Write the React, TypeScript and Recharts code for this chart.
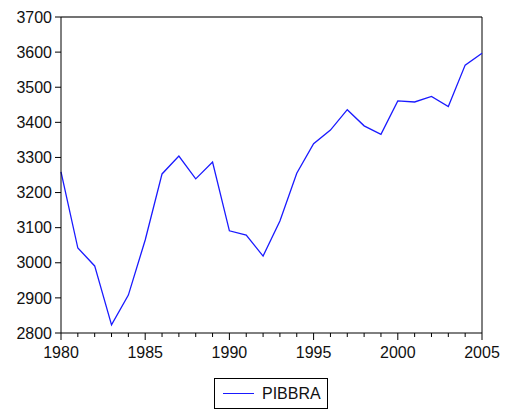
import { Line, LineChart, ReferenceLine, XAxis, YAxis } from "recharts"

const YEARS = [
  1980, 1981, 1982, 1983, 1984, 1985, 1986, 1987, 1988, 1989, 1990, 1991, 1992,
  1993, 1994, 1995, 1996, 1997, 1998, 1999, 2000, 2001, 2002, 2003, 2004, 2005,
]
const PIBBRA = [
  3259, 3042, 2991, 2823, 2908, 3065, 3253, 3304, 3239, 3287, 3091, 3079, 3019,
  3119, 3255, 3339, 3378, 3436, 3390, 3366, 3461, 3458, 3474, 3445, 3563, 3597,
]
const Y_TICKS = [2800, 2900, 3000, 3100, 3200, 3300, 3400, 3500, 3600, 3700]
const X_TICKS = YEARS

const FONT = "'Liberation Sans', Arial, sans-serif"

const data = YEARS.map((year, i) => ({ year, PIBBRA: PIBBRA[i] }))

function YearTick(props: any) {
  const { x, y, payload } = props
  const major = payload.value % 5 === 0
  return (
    <g>
      <line x1={x} x2={x} y1={y} y2={y + (major ? 7 : 4)} stroke="#000" />
      {major && (
        <text x={x} y={y + 25} textAnchor="middle" fontSize={16} fontFamily={FONT} fill="#111">
          {payload.value}
        </text>
      )}
    </g>
  )
}

export default function App() {
  return (
    <div style={{ position: "absolute", left: 0, top: 0, width: 505, height: 410, background: "#fff" }}>
      <LineChart
        width={505}
        height={410}
        data={data}
        margin={{ top: 17, right: 23, bottom: 47, left: 0 }}
      >
        <XAxis
          dataKey="year"
          type="number"
          domain={[1980, 2005]}
          ticks={X_TICKS}
          interval={0}
          height={30}
          tickSize={0}
          tickMargin={0}
          tick={<YearTick />}
          axisLine={{ stroke: "#000" }}
        />
        <YAxis
          type="number"
          domain={[2800, 3700]}
          ticks={Y_TICKS}
          interval={0}
          width={61}
          tickSize={6}
          tickMargin={3}
          axisLine={{ stroke: "#000" }}
          tickLine={{ stroke: "#000" }}
          tick={{ fontSize: 16, fontFamily: FONT, fill: "#111" }}
        />
        <ReferenceLine y={3700} stroke="#444" strokeWidth={1.5} />
        <ReferenceLine x={2005} stroke="#000" />
        <Line
          dataKey="PIBBRA"
          stroke="#1a1aff"
          strokeWidth={1.3}
          dot={false}
          isAnimationActive={false}
        />
      </LineChart>
      <div
        style={{
          position: "absolute",
          left: 214,
          top: 378,
          width: 112,
          height: 29,
          border: "1px solid #000",
          display: "flex",
          alignItems: "center",
          fontFamily: FONT,
          fontSize: 16,
          color: "#111",
        }}
      >
        <div style={{ width: 31, height: 0, borderTop: "1.3px solid #1a1aff", marginLeft: 8, marginRight: 8 }} />
        <span>PIBBRA</span>
      </div>
    </div>
  )
}
